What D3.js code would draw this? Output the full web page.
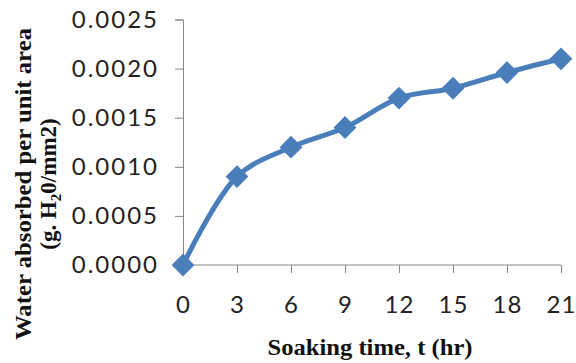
<!DOCTYPE html>
<html>
<head>
<meta charset="utf-8">
<script src="https://cdn.jsdelivr.net/npm/d3@7"></script>
<style>
  body { margin: 0; background: #fff; }
  svg { display: block; }
</style>
</head>
<body>
<svg id="chart"></svg>
<script>
// values
var hours = [0, 3, 6, 9, 12, 15, 18, 21];
var absorbed = [0.0000, 0.0009, 0.0012, 0.0014, 0.0017, 0.0018, 0.00196, 0.0021];
var yTicks = [0, 0.0005, 0.0010, 0.0015, 0.0020, 0.0025];

var width = 576, height = 363;
var plotLeft = 183, plotRight = 561, plotTop = 19.5, plotBottom = 265;

var svg = d3.select("#chart")
    .attr("width", width)
    .attr("height", height);

var xScale = d3.scaleLinear().domain([0, 21]).range([plotLeft, plotRight]);
var yScale = d3.scaleLinear().domain([0, 0.0025]).range([plotBottom, plotTop]);

var axisColor = "#868686";
var tickFont = "Lato, 'Open Sans', sans-serif";

// y axis
var yAxis = svg.append("g")
    .attr("transform", "translate(" + plotLeft + ",0)")
    .call(d3.axisLeft(yScale).tickValues(yTicks).tickSize(8).tickPadding(16)
        .tickFormat(d3.format(".4f")));
yAxis.selectAll("path, line").attr("stroke", axisColor);
yAxis.selectAll("text")
    .attr("font-family", tickFont)
    .attr("font-size", 24)
    .attr("letter-spacing", 2)
    .attr("fill", "#222");

// x axis
var xAxis = svg.append("g")
    .attr("transform", "translate(0," + plotBottom + ")")
    .call(d3.axisBottom(xScale).tickValues(hours).tickSize(8).tickPadding(23));
xAxis.select(".domain").attr("d", "M" + plotLeft + ",0H" + plotRight).attr("stroke", axisColor);
xAxis.selectAll("line").attr("stroke", axisColor);
xAxis.selectAll("text")
    .attr("font-family", tickFont)
    .attr("font-size", 24)
    .attr("letter-spacing", 1)
    .attr("fill", "#222");

var pts = hours.map(function(h, i) { return [h, absorbed[i]]; });

var lineGen = d3.line()
    .x(function(d) { return xScale(d[0]); })
    .y(function(d) { return yScale(d[1]); })
    .curve(d3.curveCatmullRom.alpha(0.5));

svg.append("path")
    .datum(pts)
    .attr("d", lineGen)
    .attr("fill", "none")
    .attr("stroke", "#4A7EBB")
    .attr("stroke-width", 5)
    .attr("stroke-linejoin", "round");

// diamond markers
svg.selectAll(".marker")
    .data(pts)
    .enter()
    .append("path")
    .attr("class", "marker")
    .attr("d", d3.symbol(d3.symbolSquare, 260)())
    .attr("transform", function(d) {
        return "translate(" + xScale(d[0]) + "," + yScale(d[1]) + ") rotate(45)";
    })
    .attr("fill", "#4A7EBB");

// axis titles
var serif = "'Liberation Serif', 'DejaVu Serif', serif";
var yTitle = svg.append("text")
    .attr("transform", "translate(31,184) rotate(-90)")
    .attr("text-anchor", "middle")
    .attr("font-family", serif)
    .attr("font-weight", "bold")
    .attr("font-size", 23)
    .attr("fill", "#111");
yTitle.append("tspan").attr("x", 0).attr("y", 0)
    .attr("textLength", 312).attr("lengthAdjust", "spacingAndGlyphs")
    .text("Water absorbed per unit area");
var line2 = yTitle.append("tspan").attr("x", 0).attr("y", 25);
line2.append("tspan").text("(g. H");
line2.append("tspan").attr("font-size", 15).attr("dy", 5).text("2");
line2.append("tspan").attr("dy", -5).text("0/mm2)");

svg.append("text")
    .attr("x", 370)
    .attr("y", 355)
    .attr("text-anchor", "middle")
    .attr("font-family", serif)
    .attr("font-weight", "bold")
    .attr("font-size", 23)
    .attr("textLength", 205)
    .attr("lengthAdjust", "spacingAndGlyphs")
    .attr("fill", "#111")
    .text("Soaking time, t (hr)");
</script>
</body>
</html>
